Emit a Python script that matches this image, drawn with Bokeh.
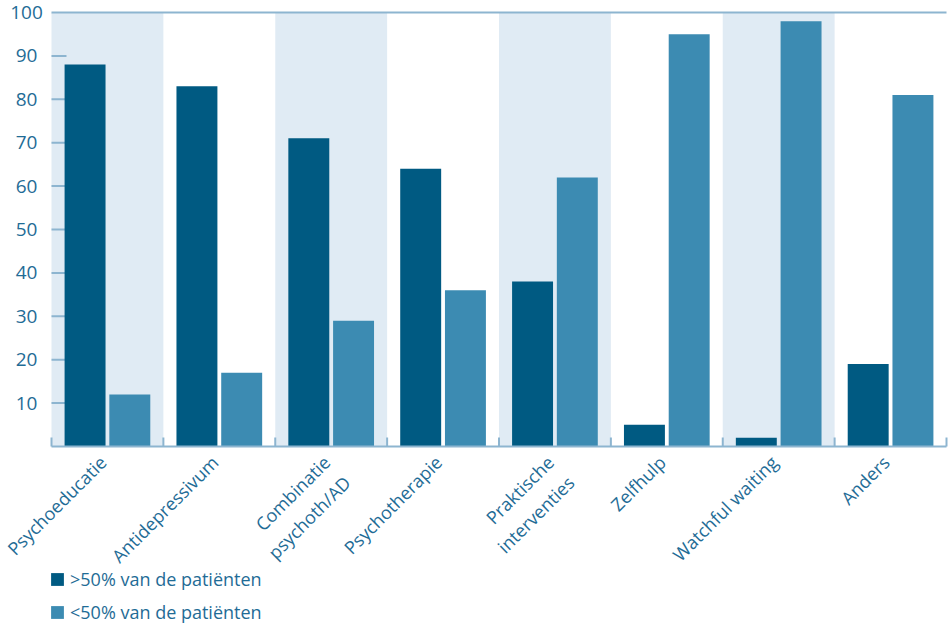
import math
from bokeh.plotting import figure
from bokeh.models import Legend, LegendItem, ColumnDataSource
from bokeh.core.properties import value
from bokeh.embed import file_html
from bokeh.resources import INLINE

# Share of GPs (%) applying each treatment to more / fewer than half of their patients
categories = ["Psychoeducatie", "Antidepressivum", "Combinatie\npsychoth/AD", "Psychotherapie",
              "Praktische\ninterventies", "Zelfhulp", "Watchful waiting", "Anders"]
more_than_half = [88, 83, 71, 64, 38, 5, 2, 19]
less_than_half = [12, 17, 29, 36, 62, 95, 98, 81]
series_labels = [">50% van de patiënten", "<50% van de patiënten"]
y_ticks = [10, 20, 30, 40, 50, 60, 70, 80, 90, 100]

DARK = "#005a82"
LIGHT = "#3c8bb2"
BAND = "#e0ebf4"
AXIS = "#8db5d0"
TEXT = "#1f6c96"
FONT = "Open Sans"

W, H = 948, 624
PLOT_LEFT, PLOT_RIGHT = 51, 946      # pixel columns of category 0 and category n
PLOT_TOP, PLOT_ZERO = 12, 446        # pixel rows of value 100 and value 0

n = len(categories)
idx = list(range(n))
px_x = (PLOT_RIGHT - PLOT_LEFT) / n          # pixels per category
px_y = (PLOT_ZERO - PLOT_TOP) / 100          # pixels per percentage point

# the frame covers the whole canvas so that axis labels and legend can sit below the bars
p = figure(width=W, height=H, output_backend="svg", toolbar_location=None,
           x_range=(-PLOT_LEFT / px_x, n + (W - PLOT_RIGHT) / px_x),
           y_range=(-(H - PLOT_ZERO) / px_y, 100 + PLOT_TOP / px_y),
           x_axis_type=None, y_axis_type=None,
           min_border_left=0, min_border_right=0, min_border_top=0, min_border_bottom=0)
p.outline_line_color = None
p.grid.visible = False
p.background_fill_color = "white"

# alternating shaded bands behind every other category
band_x = [i + 0.5 for i in idx if i % 2 == 0]
p.vbar(x=band_x, width=1, top=100, bottom=0, fill_color=BAND, line_color=None)

# y ticks (short, inside the plot, under the bars)
inner_ticks = [v for v in y_ticks if v < 100]
p.segment(x0=[0] * len(inner_ticks), y0=inner_ticks, x1=[15 / px_x] * len(inner_ticks),
          y1=inner_ticks, line_color=AXIS, line_width=2)

src = ColumnDataSource(dict(
    x_more=[i + 0.5 - 0.2 for i in idx],
    x_less=[i + 0.5 + 0.2 for i in idx],
    more=more_than_half,
    less=less_than_half,
))
r1 = p.vbar(x="x_more", top="more", width=0.366, source=src, fill_color=DARK, line_color=None)
r2 = p.vbar(x="x_less", top="less", width=0.366, source=src, fill_color=LIGHT, line_color=None)

# top rule at 100, baseline axis and category boundary ticks
p.segment(x0=[0, 0], y0=[100, 0], x1=[n, n], y1=[100, 0], line_color=AXIS, line_width=2)
bounds = list(range(n + 1))
p.segment(x0=bounds, y0=[0] * len(bounds), x1=bounds, y1=[9 / px_y] * len(bounds),
          line_color=AXIS, line_width=2)

# y tick labels, centred in the left margin
p.text(x=[0] * len(y_ticks), y=y_ticks, text=[str(v) for v in y_ticks],
       x_offset=-25, text_align="center", text_baseline="middle",
       text_font=value(FONT), text_font_size="19px", text_color=TEXT)

# rotated category labels
p.text(x=[i + 0.5 for i in idx], y=[0] * n, text=categories, angle=math.pi / 4,
       x_offset=-13, y_offset=4, text_align="right", text_baseline="top",
       text_line_height=1.2,
       text_font=value(FONT), text_font_size="18px", text_color=TEXT)

legend = Legend(items=[LegendItem(label=series_labels[0], renderers=[r1]),
                       LegendItem(label=series_labels[1], renderers=[r2])],
                location=(49, 0), orientation="vertical",
                border_line_color=None, background_fill_alpha=0,
                glyph_width=16, glyph_height=16, label_text_font=FONT,
                label_text_font_size="18px", label_text_color=TEXT,
                spacing=9, padding=0, margin=0, label_standoff=5)
p.add_layout(legend)

open("out.html", "w").write(file_html(p, INLINE))
